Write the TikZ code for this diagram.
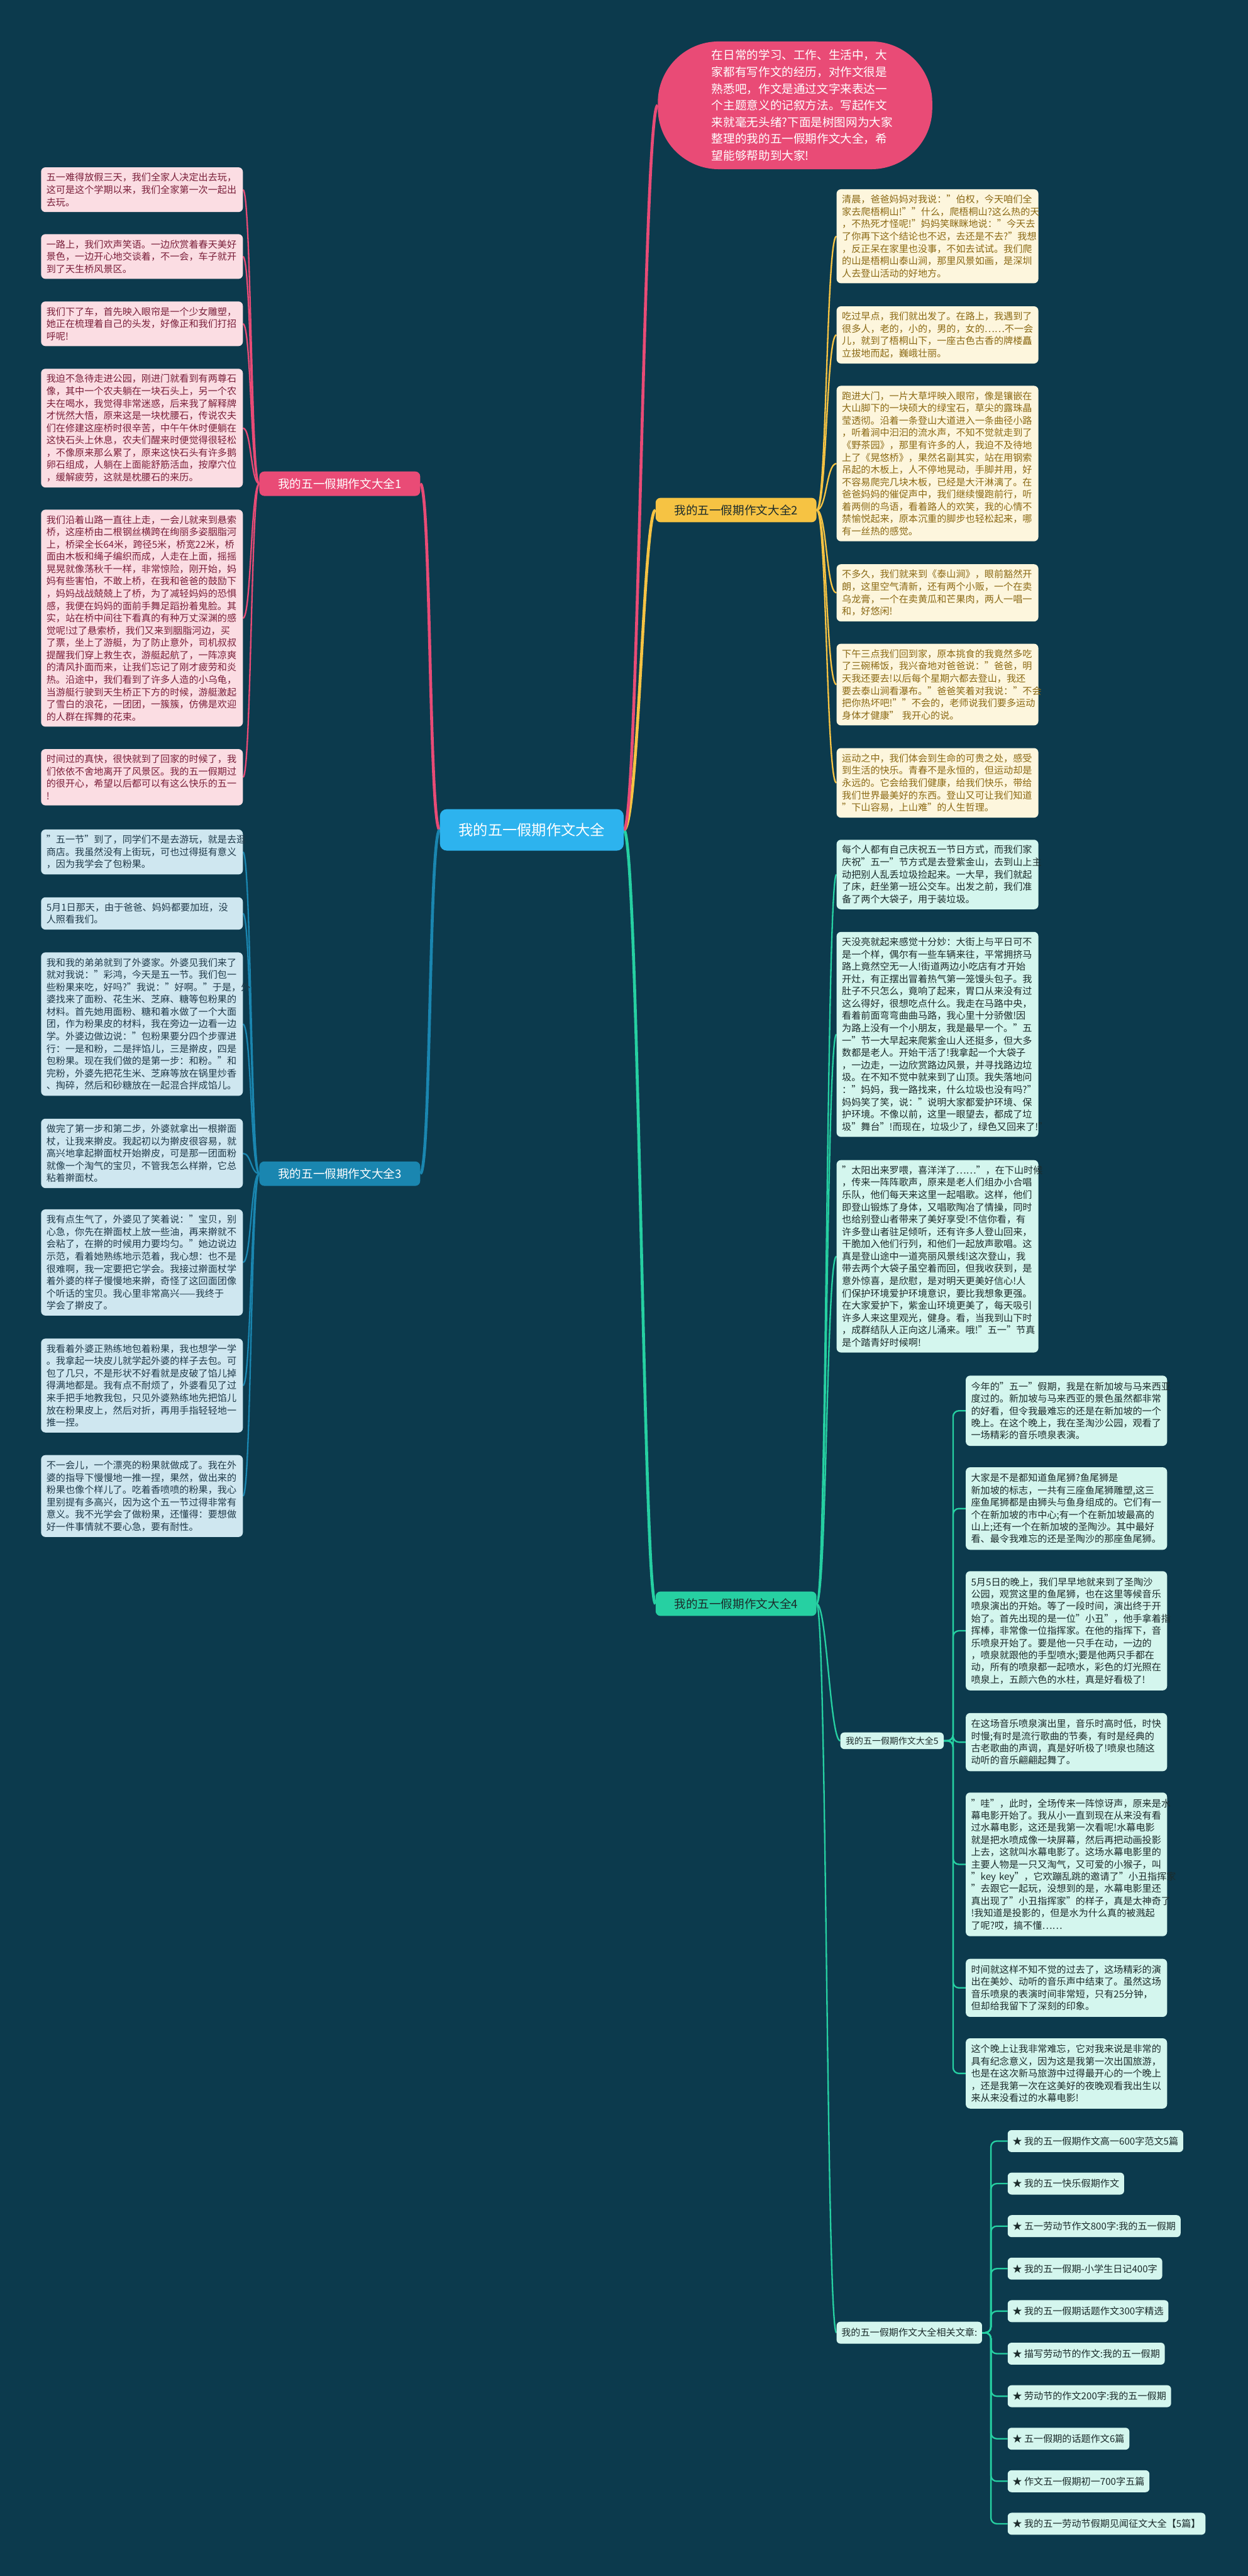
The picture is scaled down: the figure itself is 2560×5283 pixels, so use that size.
\documentclass[tikz,border=0pt]{standalone}
\usepackage{fontspec}
\setmainfont{Noto Sans CJK SC}
\usetikzlibrary{calc}
\definecolor{bgc}{HTML}{0C3A4D}
\definecolor{pinkm}{HTML}{E94B76}
\definecolor{pinkf}{HTML}{FBDDE3}
\definecolor{pinkt}{HTML}{7A1F3A}
\definecolor{yelm}{HTML}{F6C343}
\definecolor{yelf}{HTML}{FDF6DD}
\definecolor{yelt}{HTML}{8B6914}
\definecolor{blum}{HTML}{1A86B0}
\definecolor{bluf}{HTML}{CFE7F0}
\definecolor{blut}{HTML}{1F3A4A}
\definecolor{tealm}{HTML}{26D0A2}
\definecolor{tealf}{HTML}{D4F6EE}
\definecolor{tealt}{HTML}{1B2B2B}
\definecolor{cenf}{HTML}{2DB3EE}
\pgfdeclarelayer{bgl}
\pgfsetlayers{bgl,main}
\tikzset{
 leaf/.style={rounded corners=9pt, anchor=north west, align=left, text width=392pt, inner xsep=11pt, inner ysep=11.5pt, font=\fontsize{19.5}{25.25}\selectfont},
 pinkbox/.style={leaf, fill=pinkf, text=pinkt},
 yelbox/.style={leaf, fill=yelf, text=yelt},
 blubox/.style={leaf, fill=bluf, text=blut},
 tealbox/.style={leaf, fill=tealf, text=tealt},
 fivebox/.style={leaf, fill=tealf, text=tealt, text width=391pt, inner ysep=13pt, font=\fontsize{19.5}{25}\selectfont},
 label/.style={rounded corners=10pt, minimum width=330pt, minimum height=50pt, inner sep=0pt, font=\fontsize{24}{28}\selectfont},
 small/.style={rounded corners=8pt, fill=tealf, text=tealt, inner xsep=10pt, inner ysep=0pt, minimum height=45pt, font=\fontsize{19.5}{24}\selectfont},
 item/.style={small, anchor=west},
 con/.style={line width=3pt},
 maincon/.style={line width=6pt}
}
\begin{document}
\begin{tikzpicture}[x=1pt,y=-1pt]
\begin{pgfonlayer}{bgl}
\fill[bgc] (0,0) rectangle (2560,5283);
\end{pgfonlayer}
\useasboundingbox (0,0) rectangle (2560,5283);

% center and intro
\node[rounded corners=14pt, fill=cenf, text=white, minimum width=377pt, minimum height=85pt, font=\fontsize{30}{36}\selectfont] (c) at (1091,1702) {我的五一假期作文大全};
\node[rounded corners=125pt, fill=pinkm, text=white, minimum width=563pt, minimum height=262pt, text width=342pt, align=left, font=\fontsize{24}{34.3}\selectfont] (intro) at (1631,216) {在日常的学习、工作、生活中，大\\家都有写作文的经历，对作文很是\\熟悉吧，作文是通过文字来表达一\\个主题意义的记叙方法。写起作文\\来就毫无头绪?下面是树图网为大家\\整理的我的五一假期作文大全，希\\望能够帮助到大家!};

% labels
\node[label, fill=pinkm, text=white] (l1) at (697,992) {我的五一假期作文大全1};
\node[label, fill=yelm, text=tealt] (l2) at (1510,1046) {我的五一假期作文大全2};
\node[label, fill=blum, text=white] (l3) at (697,2407) {我的五一假期作文大全3};
\node[label, fill=tealm, text=tealt] (l4) at (1510,3289) {我的五一假期作文大全4};
\node[small, minimum height=34pt, font=\fontsize{18}{22}\selectfont, inner xsep=11pt] (l5) at (1830,3570) {我的五一假期作文大全5};
\node[small, anchor=west] (rel) at (1716,4784) {我的五一假期作文大全相关文章:};

% branch 1
\node[pinkbox] (a1) at (84,343) {五一难得放假三天，我们全家人决定出去玩，\\这可是这个学期以来，我们全家第一次一起出\\去玩。};
\node[pinkbox] (a2) at (84,480) {一路上，我们欢声笑语。一边欣赏着春天美好\\景色，一边开心地交谈着，不一会，车子就开\\到了天生桥风景区。};
\node[pinkbox] (a3) at (84,618) {我们下了车，首先映入眼帘是一个少女雕塑，\\她正在梳理着自己的头发，好像正和我们打招\\呼呢!};
\node[pinkbox] (a4) at (84,756) {我迫不急待走进公园，刚进门就看到有两尊石\\像，其中一个农夫躺在一块石头上，另一个农\\夫在喝水，我觉得非常迷惑，后来我了解释牌\\才恍然大悟，原来这是一块枕腰石，传说农夫\\们在修建这座桥时很辛苦，中午午休时便躺在\\这快石头上休息，农夫们醒来时便觉得很轻松\\，不像原来那么累了，原来这快石头有许多鹅\\卵石组成，人躺在上面能舒筋活血，按摩穴位\\，缓解疲劳，这就是枕腰石的来历。};
\node[pinkbox] (a5) at (84,1045) {我们沿着山路一直往上走，一会儿就来到悬索\\桥，这座桥由二根钢丝横跨在绚丽多姿胭脂河\\上，桥梁全长64米，跨径5米，桥宽22米，桥\\面由木板和绳子编织而成，人走在上面，摇摇\\晃晃就像荡秋千一样，非常惊险，刚开始，妈\\妈有些害怕，不敢上桥，在我和爸爸的鼓励下\\，妈妈战战兢兢上了桥，为了减轻妈妈的恐惧\\感，我便在妈妈的面前手舞足蹈扮着鬼脸。其\\实，站在桥中间往下看真的有种万丈深渊的感\\觉呢!过了悬索桥，我们又来到胭脂河边，买\\了票，坐上了游艇，为了防止意外，司机叔叔\\提醒我们穿上救生衣，游艇起航了，一阵凉爽\\的清风扑面而来，让我们忘记了刚才疲劳和炎\\热。沿途中，我们看到了许多人造的小乌龟，\\当游艇行驶到天生桥正下方的时候，游艇激起\\了雪白的浪花，一团团，一簇簇，仿佛是欢迎\\的人群在挥舞的花束。};
\node[pinkbox] (a6) at (84,1536) {时间过的真快，很快就到了回家的时候了，我\\们依依不舍地离开了风景区。我的五一假期过\\的很开心，希望以后都可以有这么快乐的五一\\!};

% branch 3
\node[blubox] (b1) at (84,1701) {"五一节"到了，同学们不是去游玩，就是去逛\\商店。我虽然没有上街玩，可也过得挺有意义\\，因为我学会了包粉果。};
\node[blubox] (b2) at (84,1840) {5月1日那天，由于爸爸、妈妈都要加班，没\\人照看我们。};
\node[blubox] (b3) at (84,1953) {我和我的弟弟就到了外婆家。外婆见我们来了\\就对我说："彩鸿，今天是五一节。我们包一\\些粉果来吃，好吗?"我说："好啊。"于是，外\\婆找来了面粉、花生米、芝麻、糖等包粉果的\\材料。首先她用面粉、糖和着水做了一个大面\\团，作为粉果皮的材料，我在旁边一边看一边\\学。外婆边做边说："包粉果要分四个步骤进\\行：一是和粉，二是拌馅儿，三是擀皮，四是\\包粉果。现在我们做的是第一步：和粉。"和\\完粉，外婆先把花生米、芝麻等放在锅里炒香\\、掏碎，然后和砂糖放在一起混合拌成馅儿。};
\node[blubox] (b4) at (84,2294) {做完了第一步和第二步，外婆就拿出一根擀面\\杖，让我来擀皮。我起初以为擀皮很容易，就\\高兴地拿起擀面杖开始擀皮，可是那一团面粉\\就像一个淘气的宝贝，不管我怎么样擀，它总\\粘着擀面杖。};
\node[blubox] (b5) at (84,2480) {我有点生气了，外婆见了笑着说："宝贝，别\\心急，你先在擀面杖上放一些油，再来擀就不\\会粘了，在擀的时候用力要均匀。"她边说边\\示范，看着她熟练地示范着，我心想：也不是\\很难啊，我一定要把它学会。我接过擀面杖学\\着外婆的样子慢慢地来擀，奇怪了这回面团像\\个听话的宝贝。我心里非常高兴——我终于\\学会了擀皮了。};
\node[blubox] (b6) at (84,2745) {我看着外婆正熟练地包着粉果，我也想学一学\\。我拿起一块皮儿就学起外婆的样子去包。可\\包了几只，不是形状不好看就是皮破了馅儿掉\\得满地都是。我有点不耐烦了，外婆看见了过\\来手把手地教我包，只见外婆熟练地先把馅儿\\放在粉果皮上，然后对折，再用手指轻轻地一\\推一捏。};
\node[blubox] (b7) at (84,2984) {不一会儿，一个漂亮的粉果就做成了。我在外\\婆的指导下慢慢地一推一捏，果然，做出来的\\粉果也像个样儿了。吃着香喷喷的粉果，我心\\里别提有多高兴，因为这个五一节过得非常有\\意义。我不光学会了做粉果，还懂得：要想做\\好一件事情就不要心急，要有耐性。};

% branch 2
\node[yelbox] (d1) at (1716,388) {清晨，爸爸妈妈对我说："伯权，今天咱们全\\家去爬梧桐山!""什么，爬梧桐山?这么热的天\\，不热死才怪呢!"妈妈笑眯眯地说："今天去\\了你再下这个结论也不迟，去还是不去?"我想\\，反正呆在家里也没事，不如去试试。我们爬\\的山是梧桐山泰山涧，那里风景如画，是深圳\\人去登山活动的好地方。};
\node[yelbox] (d2) at (1716,628) {吃过早点，我们就出发了。在路上，我遇到了\\很多人，老的，小的，男的，女的……不一会\\儿，就到了梧桐山下，一座古色古香的牌楼矗\\立拔地而起，巍峨壮丽。};
\node[yelbox] (d3) at (1716,791) {跑进大门，一片大草坪映入眼帘，像是镶嵌在\\大山脚下的一块硕大的绿宝石，草尖的露珠晶\\莹透彻。沿着一条登山大道进入一条曲径小路\\，听着涧中汩汩的流水声，不知不觉就走到了\\《野茶园》，那里有许多的人，我迫不及待地\\上了《晃悠桥》，果然名副其实，站在用钢索\\吊起的木板上，人不停地晃动，手脚并用，好\\不容易爬完几块木板，已经是大汗淋漓了。在\\爸爸妈妈的催促声中，我们继续慢跑前行，听\\着两侧的鸟语，看着路人的欢笑，我的心情不\\禁愉悦起来，原本沉重的脚步也轻松起来，哪\\有一丝热的感觉。};
\node[yelbox] (d4) at (1716,1157) {不多久，我们就来到《泰山涧》，眼前豁然开\\朗，这里空气清新，还有两个小贩，一个在卖\\乌龙膏，一个在卖黄瓜和芒果肉，两人一唱一\\和，好悠闲!};
\node[yelbox] (d5) at (1716,1320) {下午三点我们回到家，原本挑食的我竟然多吃\\了三碗稀饭，我兴奋地对爸爸说："爸爸，明\\天我还要去!以后每个星期六都去登山，我还\\要去泰山涧看瀑布。"爸爸笑着对我说："不会\\把你热坏吧!""不会的，老师说我们要多运动\\身体才健康" 我开心的说。};
\node[yelbox] (d6) at (1716,1534) {运动之中，我们体会到生命的可贵之处，感受\\到生活的快乐。青春不是永恒的，但运动却是\\永远的。它会给我们健康，给我们快乐，带给\\我们世界最美好的东西。登山又可让我们知道\\"下山容易，上山难"的人生哲理。};

% branch 4
\node[tealbox] (e1) at (1716,1722) {每个人都有自己庆祝五一节日方式，而我们家\\庆祝"五一"节方式是去登紫金山，去到山上主\\动把别人乱丢垃圾捡起来。一大早，我们就起\\了床，赶坐第一班公交车。出发之前，我们准\\备了两个大袋子，用于装垃圾。};
\node[tealbox] (e2) at (1716,1911) {天没亮就起来感觉十分妙：大街上与平日可不\\是一个样，偶尔有一些车辆来往，平常拥挤马\\路上竟然空无一人!街道两边小吃店有才开始\\开灶，有正摆出冒着热气第一笼馒头包子。我\\肚子不只怎么，竟响了起来，胃口从来没有过\\这么得好，很想吃点什么。我走在马路中央，\\看着前面弯弯曲曲马路，我心里十分骄傲!因\\为路上没有一个小朋友，我是最早一个。"五\\一"节一大早起来爬紫金山人还挺多，但大多\\数都是老人。开始干活了!我拿起一个大袋子\\，一边走，一边欣赏路边风景，并寻找路边垃\\圾。在不知不觉中就来到了山顶。我失落地问\\："妈妈，我一路找来，什么垃圾也没有吗?"\\妈妈笑了笑，说："说明大家都爱护环境、保\\护环境。不像以前，这里一眼望去，都成了垃\\圾"舞台"!而现在，垃圾少了，绿色又回来了!"};
\node[tealbox] (e3) at (1716,2379) {"太阳出来罗喂，喜洋洋了……"，在下山时候\\，传来一阵阵歌声，原来是老人们组办小合唱\\乐队，他们每天来这里一起唱歌。这样，他们\\即登山锻炼了身体，又唱歌陶冶了情操，同时\\也给别登山者带来了美好享受!不信你看，有\\许多登山者驻足倾听，还有许多人登山回来，\\干脆加入他们行列，和他们一起放声歌唱。这\\真是登山途中一道亮丽风景线!这次登山，我\\带去两个大袋子虽空着而回，但我收获到，是\\意外惊喜，是欣慰，是对明天更美好信心!人\\们保护环境爱护环境意识，要比我想象更强。\\在大家爱护下，紫金山环境更美了，每天吸引\\许多人来这里观光，健身。看，当我到山下时\\，成群结队人正向这儿涌来。哦!"五一"节真\\是个踏青好时候啊!};

% branch 5
\node[fivebox] (f1) at (1981,2821) {今年的"五一"假期，我是在新加坡与马来西亚\\度过的。新加坡与马来西亚的景色虽然都非常\\的好看，但令我最难忘的还是在新加坡的一个\\晚上。在这个晚上，我在圣淘沙公园，观看了\\一场精彩的音乐喷泉表演。};
\node[fivebox] (f2) at (1981,3009) {大家是不是都知道鱼尾狮?鱼尾狮是\\新加坡的标志，一共有三座鱼尾狮雕塑,这三\\座鱼尾狮都是由狮头与鱼身组成的。它们有一\\个在新加坡的市中心;有一个在新加坡最高的\\山上;还有一个在新加坡的圣陶沙。其中最好\\看、最令我难忘的还是圣陶沙的那座鱼尾狮。};
\node[fivebox] (f3) at (1981,3222) {5月5日的晚上，我们早早地就来到了圣陶沙\\公园，观赏这里的鱼尾狮，也在这里等候音乐\\喷泉演出的开始。等了一段时间，演出终于开\\始了。首先出现的是一位"小丑"，他手拿着指\\挥棒，非常像一位指挥家。在他的指挥下，音\\乐喷泉开始了。要是他一只手在动，一边的\\，喷泉就跟他的手型喷水;要是他两只手都在\\动，所有的喷泉都一起喷水，彩色的灯光照在\\喷泉上，五颜六色的水柱，真是好看极了!};
\node[fivebox] (f4) at (1981,3513) {在这场音乐喷泉演出里，音乐时高时低，时快\\时慢;有时是流行歌曲的节奏，有时是经典的\\古老歌曲的声调，真是好听极了!喷泉也随这\\动听的音乐翩翩起舞了。};
\node[fivebox] (f5) at (1981,3676) {"哇"，此时，全场传来一阵惊讶声，原来是水\\幕电影开始了。我从小一直到现在从来没有看\\过水幕电影，这还是我第一次看呢!水幕电影\\就是把水喷成像一块屏幕，然后再把动画投影\\上去，这就叫水幕电影了。这场水幕电影里的\\主要人物是一只又淘气，又可爱的小猴子，叫\\"key key"，它欢蹦乱跳的邀请了"小丑指挥家\\"去跟它一起玩，没想到的是，水幕电影里还\\真出现了"小丑指挥家"的样子，真是太神奇了\\!我知道是投影的，但是水为什么真的被溅起\\了呢?哎，搞不懂……};
\node[fivebox] (f6) at (1981,4017) {时间就这样不知不觉的过去了，这场精彩的演\\出在美妙、动听的音乐声中结束了。虽然这场\\音乐喷泉的表演时间非常短，只有25分钟，\\但却给我留下了深刻的印象。};
\node[fivebox] (f7) at (1981,4180) {这个晚上让我非常难忘，它对我来说是非常的\\具有纪念意义，因为这是我第一次出国旅游，\\也是在这次新马旅游中过得最开心的一个晚上\\，还是我第一次在这美好的夜晚观看我出生以\\来从来没看过的水幕电影!};

% related list
\node[item] (g1) at (2067,4391) {★ 我的五一假期作文高一600字范文5篇};
\node[item] (g2) at (2067,4478.2) {★ 我的五一快乐假期作文};
\node[item] (g3) at (2067,4565.4) {★ 五一劳动节作文800字:我的五一假期};
\node[item] (g4) at (2067,4652.6) {★ 我的五一假期-小学生日记400字};
\node[item] (g5) at (2067,4739.8) {★ 我的五一假期话题作文300字精选};
\node[item] (g6) at (2067,4827) {★ 描写劳动节的作文:我的五一假期};
\node[item] (g7) at (2067,4914.2) {★ 劳动节的作文200字:我的五一假期};
\node[item] (g8) at (2067,5001.4) {★ 五一假期的话题作文6篇};
\node[item] (g9) at (2067,5088.6) {★ 作文五一假期初一700字五篇};
\node[item] (g10) at (2067,5175.8) {★ 我的五一劳动节假期见闻征文大全【5篇】};

\begin{pgfonlayer}{bgl}
% main connectors
\draw[maincon, pinkm] (c.west) .. controls (880,1702) and (884,992) .. (l1.east);
\draw[maincon, blum] (c.west) .. controls (880,1702) and (884,2407) .. (l3.east);
\draw[maincon, yelm] (c.east) .. controls (1310,1702) and (1320,1046) .. (l2.west);
\draw[maincon, tealm] (c.east) .. controls (1310,1702) and (1320,3289) .. (l4.west);
\draw[maincon, pinkm] (c.east) .. controls (1310,1702) and (1320,216) .. (intro.west);
% branch 1
\foreach \n in {a1,a2,a3,a4,a5,a6}
 \draw[con, pinkm] (l1.west) .. controls ($(l1.west)+(-17,0)$) and ($(\n.east)+(17,0)$) .. (\n.east);
\foreach \n in {b1,b2,b3,b4,b5,b6,b7}
 \draw[con, blum] (l3.west) .. controls ($(l3.west)+(-17,0)$) and ($(\n.east)+(17,0)$) .. (\n.east);
\foreach \n in {d1,d2,d3,d4,d5,d6}
 \draw[con, yelm] (l2.east) .. controls ($(l2.east)+(21,0)$) and ($(\n.west)+(-21,0)$) .. (\n.west);
\foreach \n in {e1,e2,e3,l5,rel}
 \draw[con, tealm] (l4.east) .. controls ($(l4.east)+(21,0)$) and ($(\n.west)+(-21,0)$) .. (\n.west);
\foreach \n in {f1,f2,f3,f4,f5,f6,f7}
 \draw[con, tealm, rounded corners=12pt] (l5.east) -- ++(19,0) |- (\n.west);
\foreach \n in {g1,g2,g3,g4,g5,g6,g7,g8,g9,g10}
 \draw[con, tealm, rounded corners=12pt] (rel.east) -- ++(18,0) |- (\n.west);
\end{pgfonlayer}
\end{tikzpicture}
\end{document}
